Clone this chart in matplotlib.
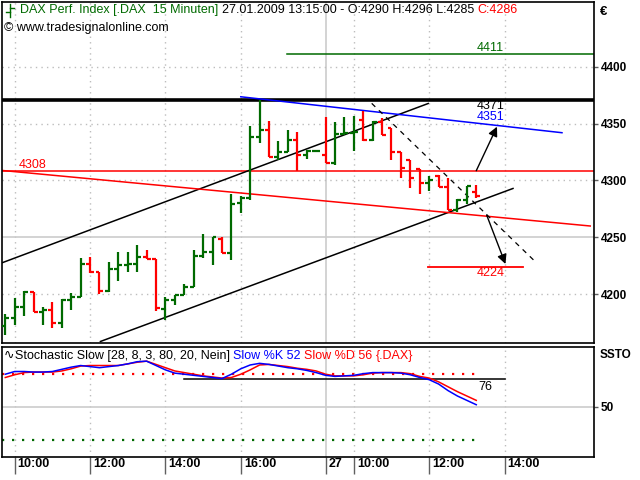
import matplotlib
matplotlib.use("Agg")
import matplotlib.pyplot as plt
from matplotlib.lines import Line2D
from matplotlib.transforms import ScaledTranslation

plt.rcParams["font.family"] = ["Liberation Sans", "DejaVu Sans"]

# 15-minute OHLC bars, 26.01.2009 09:45 .. 27.01.2009 13:15
opens = [4172, 4179, 4189, 4202, 4184, 4186, 4175, 4195, 4198,
         4227, 4220, 4203, 4222, 4226, 4227, 4233, 4231, 4187,
         4195, 4199, 4206, 4234, 4237, 4249, 4236, 4280,
         4285, 4338, 4344, 4321, 4325, 4336, 4322, 4326,
         4322, 4315, 4341, 4342, 4353, 4336, 4351, 4346, 4325,
         4318, 4310, 4298, 4304, 4294, 4274, 4283, 4290]
highs = [4183, 4197, 4203, 4202, 4189, 4193, 4196, 4201, 4232,
         4233, 4220, 4228, 4237, 4237, 4243, 4239, 4231, 4198,
         4199, 4209, 4239, 4253, 4250, 4250, 4288, 4286,
         4348, 4371, 4352, 4335, 4344, 4343, 4327, 4327,
         4356, 4351, 4356, 4357, 4361, 4352, 4355, 4346, 4325,
         4318, 4310, 4304, 4305, 4302, 4284, 4295, 4296]
lows = [4164, 4173, 4181, 4184, 4173, 4170, 4170, 4186, 4198,
        4219, 4200, 4202, 4212, 4220, 4220, 4231, 4185, 4177,
        4191, 4199, 4206, 4232, 4226, 4236, 4230, 4271,
        4283, 4333, 4321, 4318, 4325, 4308, 4319, 4325,
        4315, 4314, 4340, 4326, 4335, 4335, 4340, 4318, 4302,
        4293, 4288, 4291, 4294, 4274, 4272, 4279, 4285]
closes = [4179, 4189, 4202, 4184, 4186, 4175, 4195, 4198, 4227,
          4220, 4203, 4222, 4226, 4227, 4233, 4231, 4188, 4195,
          4199, 4206, 4234, 4237, 4250, 4236, 4279, 4285,
          4338, 4344, 4321, 4325, 4336, 4322, 4326, 4326,
          4315, 4341, 4342, 4343, 4336, 4351, 4340, 4325, 4311,
          4302, 4298, 4300, 4294, 4274, 4283, 4295, 4286]

# Stochastic Slow %K / %D
slow_k = [80, 82.5, 82.5, 82, 82, 82.5, 84.5, 86.5, 88, 87, 86, 87, 88,
          89.5, 91.5, 92, 88, 84, 81, 80, 79, 78, 77, 76, 80, 85, 88.5,
          90, 89, 87.5, 86, 85, 83.5, 81.5, 79, 78, 78.5, 79, 80.5, 81.5,
          81.5, 81.5, 81, 79.5, 77, 75, 71, 65, 60, 56, 52]
slow_d = [77, 79.5, 81.5, 82, 82, 82, 83, 85, 87.5, 88, 88, 88, 88,
          89.5, 91, 92, 89, 86, 83, 81.5, 80, 78.5, 77.5, 76.5, 77, 80, 84,
          88.5, 89, 88, 87, 85.5, 84.5, 83, 80, 78.5, 78.5, 78.5, 79.5, 81,
          81.5, 81.5, 81.5, 80.5, 78, 76.5, 73, 68.5, 64, 60, 56]

tick_pos = [1, 9, 17, 25, 34, 37, 45, 53]
tick_labels = ["10:00", "12:00", "14:00", "16:00", "27", "10:00", "12:00", "14:00"]
day_break = 34
price_ticks = [4200, 4250, 4300, 4350, 4400]

# drawn trend lines: (bar, price) end points
channel_top = [(-0.56, 4227), (44.9, 4367.7)]
channel_bottom = [(10.1, 4158.5), (53.9, 4293)]
red_trend = [(-0.56, 4309), (62.1, 4260)]
blue_trend = [(25.0, 4373.6), (59.1, 4342)]
dashed_trend = [(38.9, 4367.8), (56.1, 4230)]
arrow_up = [(50.0, 4308.6), (52.2, 4347.3)]
arrow_down = [(51.1, 4269.7), (53.1, 4226.6)]
level_4371 = 4371
level_4308 = 4308
level_4411 = 4411
level_4224 = 4224
level_4351 = 4351
green_start = 29.9
target_span = (44.9, 55.0)
label_bar = 51.5
stoch_76 = 76
stoch_76_span = (19, 53)

GREEN = "#006a00"
RED = "#ff0000"
BLUE = "#0000ff"
W, H = 640, 480
FS = 9


def fx(px):
    return px / W


def fy(py):
    return 1 - py / H


fig = plt.figure(figsize=(6.4, 4.8), dpi=100)
ax = fig.add_axes([fx(2), fy(342.5), fx(594) - fx(2), fy(2) - fy(342.5)])
ax_st = fig.add_axes([fx(2), fy(457), fx(594) - fx(2), fy(347) - fy(457)])

for a in (ax, ax_st):
    a.set_xlim(-0.35, 62.5)
    for s in a.spines.values():
        s.set_color("black")
        s.set_linewidth(1.2)
    for p in tick_pos:
        if p == day_break:
            a.axvline(p, color="#cccccc", lw=1.2, zorder=0)
        else:
            a.axvline(p, color="#bdbdbd", lw=1, ls=(0, (1, 3)), zorder=0)

ax.set_ylim(4157.6, 4456.9)
ax_st.set_ylim(4, 105)

# price grid
for p in price_ticks:
    if p == 4250:
        ax.axhline(p, color="#cccccc", lw=1.2, zorder=0)
    else:
        ax.axhline(p, color="#bdbdbd", lw=1, ls=(0, (1, 3)), zorder=0)

# OHLC bars
for i in range(len(opens)):
    c = GREEN if closes[i] >= opens[i] else RED
    ax.vlines(i, lows[i], highs[i], color=c, lw=1.6, zorder=3)
    ax.hlines(opens[i], i - 0.42, i, color=c, lw=1.6, zorder=3)
    ax.hlines(closes[i], i, i + 0.42, color=c, lw=1.6, zorder=3)

# horizontal levels
ax.axhline(level_4371, color="black", lw=2.6, zorder=2)
ax.axhline(level_4308, color=RED, lw=1.1, zorder=2)
ax.plot([green_start, 62.5], [level_4411, level_4411], color=GREEN, lw=1.1)
ax.plot(target_span, [level_4224, level_4224], color=RED, lw=1.3)

# trend lines
ax.plot(*zip(*channel_top), color="black", lw=1.1, zorder=2)
ax.plot(*zip(*channel_bottom), color="black", lw=1.1, zorder=2)
ax.plot(*zip(*red_trend), color=RED, lw=1.1, zorder=2)
ax.plot(*zip(*blue_trend), color=BLUE, lw=1.1, zorder=2)
ax.plot(*zip(*dashed_trend), color="black", lw=0.9, ls=(0, (4, 4)), zorder=2)
for a0, a1 in (arrow_up, arrow_down):
    ax.annotate("", xy=a1, xytext=a0,
                arrowprops=dict(arrowstyle="-|>", color="black", lw=1,
                                mutation_scale=14, shrinkA=0, shrinkB=0))

lab = dict(fontsize=FS, ha="center", va="center", textcoords="offset points")
ax.annotate(str(level_4411), (label_bar, level_4411), (0, 4.5), color=GREEN, **lab)
ax.annotate(str(level_4371), (label_bar, level_4371), (0, -4.2), color="black", **lab)
ax.annotate(str(level_4351), (label_bar, level_4351), (0, 3.6), color=BLUE, **lab)
ax.annotate(str(level_4224), (label_bar, level_4224), (0, -4.7), color=RED, **lab)
ax.annotate(str(level_4308), (-0.35, level_4308), (17, 6), color=RED,
            fontsize=FS, ha="left", va="center", textcoords="offset pixels")

# right price axis
ax.yaxis.tick_right()
ax.set_yticks(price_ticks)
ax.set_yticklabels([str(p) for p in price_ticks], fontsize=8.5, fontweight="bold")
ax.tick_params(axis="y", length=3, width=1, color="#606060", pad=2)
ax.set_xticks([])

# stochastic panel
ax_st.axhline(50, color="#cccccc", lw=1.2, zorder=0)
ax_st.plot([-0.35, 50], [80, 80], color=RED, lw=1.6, ls=(0, (1, 3.5)))
ax_st.plot([-0.35, 50], [20, 20], color=GREEN, lw=1.6, ls=(0, (1, 3.5)))
ax_st.plot(stoch_76_span, [stoch_76, stoch_76], color="black", lw=1.1)
ax_st.text(50.2, stoch_76 - 2.5, str(stoch_76), fontsize=FS, va="top", ha="left")
x_bars = range(len(slow_k))
ax_st.plot(x_bars, slow_d, color=RED, lw=1.1)
ax_st.plot(x_bars, slow_k, color=BLUE, lw=1.1)
ax_st.yaxis.tick_right()
ax_st.set_yticks([50])
ax_st.set_yticklabels(["50"], fontsize=8.5, fontweight="bold")
ax_st.tick_params(axis="y", length=3, width=1, color="#606060", pad=2)
ax_st.set_xticks(tick_pos)
ax_st.set_xticklabels(tick_labels, fontsize=FS, fontweight="bold", ha="left")
ax_st.tick_params(axis="x", length=12, width=1, color="#606060", pad=-11, direction="out")
shift = ScaledTranslation(3 / 100, 0, fig.dpi_scale_trans)
for t in ax_st.get_xticklabels():
    t.set_transform(t.get_transform() + shift)


def draw_segments(x, y, segments, **kw):
    renderer = fig.canvas.get_renderer()
    for text, color in segments:
        t = fig.text(x, y, text, color=color, **kw)
        x += t.get_window_extent(renderer).width / fig.bbox.width


hdr = dict(fontsize=FS, va="center", ha="left")
draw_segments(fx(20), fy(10), [
    ("DAX Perf. Index [.DAX  15 Minuten] ", GREEN),
    ("27.01.2009 13:15:00 - O:4290 H:4296 L:4285 ", "black"),
    ("C:4286", RED)], **hdr)
fig.text(fx(4), fy(28), "© www.tradesignalonline.com", color="black", **hdr)
fig.text(fx(600), fy(12), "€", color="black", fontsize=9.5, fontweight="bold", va="center")
fig.text(fx(600), fy(355), "SSTO", color="black", fontsize=8.5, fontweight="bold", va="center")
draw_segments(fx(4), fy(356), [
    ("∿", "black"),
    ("Stochastic Slow [28, 8, 3, 80, 20, Nein] ", "black"),
    ("Slow %K 52 ", BLUE),
    ("Slow %D 56 ", RED),
    ("{.DAX}", RED)], **hdr)

# small bar icon in the header
fig.add_artist(Line2D([fx(10), fx(10)], [fy(4), fy(17)], color=GREEN, lw=1))
fig.add_artist(Line2D([fx(6), fx(10)], [fy(12), fy(12)], color=GREEN, lw=1))
fig.add_artist(Line2D([fx(10), fx(14)], [fy(8), fy(8)], color=GREEN, lw=1))

fig.savefig("out.png", dpi=100)
